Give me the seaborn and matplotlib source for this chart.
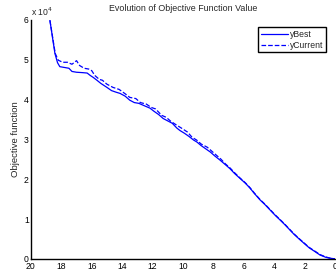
import numpy as np
import pandas as pd
import matplotlib
matplotlib.use('Agg')
import matplotlib.pyplot as plt
import seaborn as sns
from matplotlib.ticker import FuncFormatter

# values (objective in units of 1e4)
x_best = [18.75, 18.6, 18.42, 18.25, 18.1, 17.8, 17.5, 17.3, 17.0, 16.6, 16.3, 16.1, 15.9,
          15.66, 15.4, 15.2, 15.0, 14.7, 14.4, 14.14, 13.8, 13.5, 13.2, 12.9, 12.6, 12.17,
          11.9, 11.6, 11.3, 11.0, 10.7, 10.4, 10.2, 9.9, 9.6, 9.3, 9.08, 8.8, 8.5, 8.2, 7.9,
          7.57, 7.2, 6.9, 6.6, 6.25, 5.9, 5.6, 5.3, 4.93, 4.6, 4.3, 3.95, 3.62, 3.3, 3.0,
          2.7, 2.3, 2.0, 1.7, 1.3, 0.99, 0.6, 0.33, 0.0]
y_best = [5.98, 5.6, 5.15, 4.92, 4.82, 4.80, 4.78, 4.70, 4.68, 4.67, 4.66, 4.60, 4.55,
          4.48, 4.40, 4.35, 4.30, 4.22, 4.18, 4.15, 4.08, 3.98, 3.92, 3.90, 3.85, 3.78,
          3.70, 3.62, 3.52, 3.46, 3.40, 3.28, 3.22, 3.15, 3.07, 2.98, 2.93, 2.84, 2.76, 2.68, 2.58,
          2.48, 2.36, 2.26, 2.14, 2.02, 1.90, 1.78, 1.64, 1.48, 1.36, 1.24, 1.10, 0.98, 0.86, 0.74,
          0.62, 0.48, 0.38, 0.28, 0.18, 0.10, 0.04, 0.02, 0.0]

x_cur = [18.75, 18.4, 18.2, 17.9, 17.6, 17.3, 17.0, 16.8, 16.5, 16.2, 16.0, 15.8, 15.5,
         15.3, 15.0, 14.6, 14.2, 13.8, 13.5, 13.1, 12.8, 12.4, 12.1, 11.8, 11.4, 11.1,
         10.8, 10.4, 10.1, 9.7, 9.4, 9.1, 8.8, 8.4, 8.1, 7.8, 7.5, 7.2, 6.9, 6.6, 6.25,
         5.9, 5.6, 5.3, 4.93, 4.6, 4.3, 3.95, 3.62, 3.3, 3.0, 2.7, 2.3, 2.0, 1.7, 1.3,
         0.99, 0.6, 0.33, 0.0]
y_cur = [5.98, 5.15, 4.98, 4.93, 4.93, 4.88, 4.97, 4.85, 4.78, 4.76, 4.72, 4.60, 4.50,
         4.48, 4.38, 4.30, 4.25, 4.14, 4.05, 4.02, 3.92, 3.88, 3.80, 3.76, 3.60, 3.55,
         3.45, 3.35, 3.28, 3.18, 3.05, 2.98, 2.88, 2.80, 2.70, 2.60, 2.50, 2.38, 2.28, 2.16, 2.03,
         1.91, 1.79, 1.65, 1.49, 1.37, 1.25, 1.11, 0.99, 0.87, 0.75, 0.63, 0.49, 0.39, 0.29, 0.19,
         0.11, 0.05, 0.02, 0.0]

sns.set_style('white')
plt.rcParams['font.family'] = ['Liberation Sans', 'DejaVu Sans']

fig = plt.figure(figsize=(3.36, 2.72), dpi=100)
ax = fig.add_axes([0.092, 0.048, 0.905, 0.88])

sns.lineplot(x=x_best, y=y_best, ax=ax, color='blue', lw=0.9, sort=False, label='yBest')
sns.lineplot(x=x_cur, y=y_cur, ax=ax, color='blue', lw=0.9, sort=False, linestyle='--',
             label='yCurrent')

ax.set_xlim(20, 0)
ax.set_ylim(0, 6)
ax.set_xticks(range(20, -1, -2))
ax.set_yticks(range(0, 7))
ax.yaxis.set_major_formatter(FuncFormatter(lambda v, p: f'{v:g}'))
ax.tick_params(direction='in', length=3, width=0.8, labelsize=6.2, pad=1.5, colors='black')
ax.tick_params(axis='x', pad=2.5)
for lbl in ax.get_yticklabels():
    lbl.set_va('center_baseline')
sns.despine(ax=ax)
for s in ['left', 'bottom']:
    ax.spines[s].set_linewidth(1.0)
    ax.spines[s].set_color('black')

ax.text(0.0, 1.005, 'x 10$^4$', transform=ax.transAxes, fontsize=6.2, ha='left', va='bottom')
ax.set_title('Evolution of Objective Function Value', fontsize=6.4, pad=6)
ax.set_ylabel('Objective function', fontsize=6.8, labelpad=3)
ax.set_xlabel('')

leg = ax.legend(loc='upper right', fontsize=6.2, frameon=True, fancybox=False,
                framealpha=1, edgecolor='black', handlelength=3.1, borderpad=0.3,
                labelspacing=0.2, handletextpad=0.3, bbox_to_anchor=(0.985, 0.985))
leg.get_frame().set_linewidth(1.0)

fig.savefig('out.png', dpi=100)
